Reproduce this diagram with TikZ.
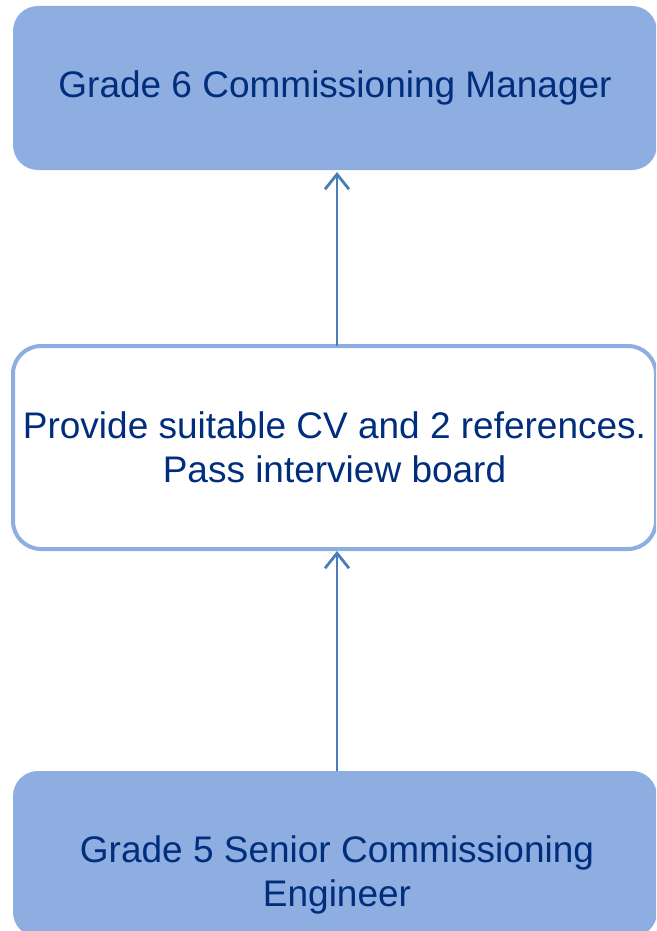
\documentclass[tikz,border=0pt]{standalone}
\usepackage{fontspec}
\setmainfont{Liberation Sans}
\usetikzlibrary{arrows.meta}
\definecolor{boxfill}{RGB}{142,173,224}
\definecolor{arrowblue}{RGB}{74,126,187}
\definecolor{textnavy}{RGB}{0,46,125}
\begin{document}
\begin{tikzpicture}[x=1pt,y=-1pt,
  every node/.style={font=\fontsize{37}{44}\selectfont, text=textnavy, align=center, inner sep=0pt, outer sep=0pt},
  filledbox/.style={fill=boxfill, draw=none, rounded corners=25pt},
  openbox/.style={fill=white, draw=boxfill, line width=4pt, rounded corners=28pt},
  uparrow/.style={draw=arrowblue, line width=2.8pt, -{Straight Barb[length=15pt,width=24pt,line width=2.8pt]}}]
\useasboundingbox (0,0) rectangle (656,931);
\clip (0,0) rectangle (656,931);
\node[filledbox, minimum width=644pt, minimum height=164pt] (top) at (335,88) {Grade 6 Commissioning Manager};
\node[openbox, minimum width=643pt, minimum height=203pt] (mid) at (334.5,447.5) {Provide suitable CV and 2 references.\\Pass interview board};
\node[filledbox, minimum width=644pt, minimum height=166pt] (bot) at (335,854) {};
\node (botlabel) at (337,875) {Grade 5 Senior Commissioning\\Engineer};
\coordinate (a1s) at (337,346);
\coordinate (a1e) at (337,172);
\coordinate (a2s) at (337,771);
\coordinate (a2e) at (337,551);
\draw[uparrow] (a1s) -- (a1e);
\draw[uparrow] (a2s) -- (a2e);
\end{tikzpicture}
\end{document}
